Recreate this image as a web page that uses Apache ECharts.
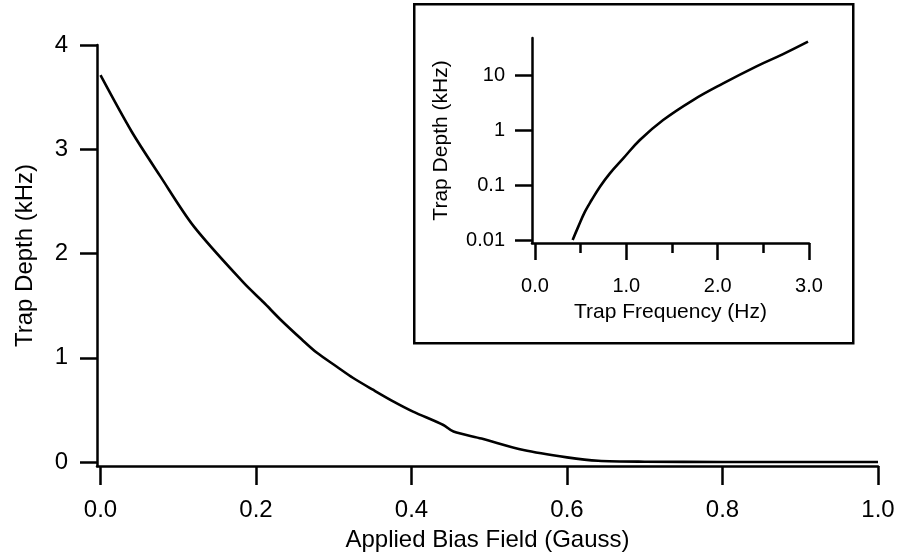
<!DOCTYPE html>
<html>
<head>
<meta charset="utf-8">
<script src="https://cdn.jsdelivr.net/npm/echarts@6/dist/echarts.min.js"></script>
<style>
html,body{margin:0;padding:0;background:#fff;}
#chart{width:899px;height:559px;}
</style>
</head>
<body>
<div id="chart"></div>
<script>
// Main chart: trap depth vs applied bias field
const mainX = [0, 0.04, 0.077, 0.12, 0.184, 0.21, 0.231, 0.259, 0.278, 0.304, 0.325, 0.351, 0.377, 0.402, 0.441, 0.454, 0.49, 0.544, 0.6, 0.64, 0.7, 0.8, 0.9, 1.0];
const mainY = [3.71, 3.17, 2.74, 2.26, 1.72, 1.53, 1.37, 1.175, 1.05, 0.914, 0.806, 0.691, 0.58, 0.484, 0.355, 0.292, 0.225, 0.115, 0.045, 0.012, 0.003, 0.001, 0.001, 0];
const mainXTicks = [0, 0.2, 0.4, 0.6, 0.8, 1.0];
const mainYTicks = [0, 1, 2, 3, 4];

// Inset: trap depth (log) vs trap frequency
const insetX = [0.412, 0.474, 0.547, 0.62, 0.711, 0.82, 0.966, 1.148, 1.403, 1.731, 2.06, 2.425, 2.716, 2.989];
const insetY = [0.01, 0.0175, 0.0327, 0.0533, 0.0931, 0.163, 0.305, 0.658, 1.52, 3.51, 7.05, 14.4, 24.0, 40.4];
const insetXTicks = [0, 1, 2, 3];
const insetXMinorTicks = [0.5, 1.5, 2.5];
const insetYTicks = [0.01, 0.1, 1, 10];

const FONT = '"Liberation Sans", Arial, Helvetica, sans-serif';
const chart = echarts.init(document.getElementById('chart'), null, {renderer: 'canvas'});

const axisLineStyle = {color: '#000', width: 2.5};

chart.setOption({
  animation: false,
  backgroundColor: '#fff',
  textStyle: {fontFamily: FONT, color: '#000'},
  grid: [
    {left: 97, right: 21, top: 45, bottom: 93, containLabel: false},
    {left: 532, right: 90, top: 38, bottom: 316, containLabel: false}
  ],
  graphic: [{
    type: 'rect',
    left: 413, top: 3,
    shape: {width: 439, height: 339},
    style: {fill: 'transparent', stroke: '#000', lineWidth: 2.5},
    z: 10
  }],
  xAxis: [
    {
      type: 'value', gridIndex: 0, min: -0.0045, max: 1.0,
      name: 'Applied Bias Field (Gauss)', nameLocation: 'middle', nameGap: 62,
      nameTextStyle: {fontSize: 24, color: '#000', fontFamily: FONT},
      axisLine: {show: true, onZero: false, lineStyle: axisLineStyle},
      axisTick: {show: true, inside: false, length: 19, customValues: mainXTicks, lineStyle: axisLineStyle},
      axisLabel: {show: true, margin: 32, fontSize: 24, color: '#000', fontFamily: FONT,
        customValues: mainXTicks, formatter: v => Number(v).toFixed(1)},
      splitLine: {show: false}
    },
    {
      type: 'value', gridIndex: 1, min: -0.033, max: 3.0,
      name: 'Trap Frequency (Hz)', nameLocation: 'middle', nameGap: 59,
      nameTextStyle: {fontSize: 21, color: '#000', fontFamily: FONT},
      axisLine: {show: true, onZero: false, lineStyle: axisLineStyle},
      axisTick: {show: true, length: 17, customValues: insetXTicks, lineStyle: axisLineStyle},
      axisLabel: {show: true, margin: 33, fontSize: 20, color: '#000', fontFamily: FONT,
        customValues: insetXTicks, formatter: v => Number(v).toFixed(1)},
      splitLine: {show: false}
    },
    {
      type: 'value', gridIndex: 1, min: -0.033, max: 3.0, position: 'bottom',
      axisLine: {show: false, onZero: false},
      axisTick: {show: true, length: 10, customValues: insetXMinorTicks, lineStyle: axisLineStyle},
      axisLabel: {show: false},
      splitLine: {show: false}
    }
  ],
  yAxis: [
    {
      type: 'value', gridIndex: 0, min: -0.038, max: 4,
      name: 'Trap Depth (kHz)', nameLocation: 'middle', nameGap: 60, nameRotate: 90,
      nameTextStyle: {fontSize: 24, color: '#000', fontFamily: FONT},
      axisLine: {show: true, onZero: false, lineStyle: axisLineStyle},
      axisTick: {show: true, length: 17, customValues: mainYTicks, lineStyle: axisLineStyle},
      axisLabel: {show: true, margin: 29, fontSize: 24, color: '#000', fontFamily: FONT,
        customValues: mainYTicks, formatter: v => String(v)},
      splitLine: {show: false}
    },
    {
      type: 'log', gridIndex: 1, min: 0.00882, max: 47.1, logBase: 10,
      name: 'Trap Depth (kHz)', nameLocation: 'middle', nameGap: 80, nameRotate: 90,
      nameTextStyle: {fontSize: 21, color: '#000', fontFamily: FONT},
      axisLine: {show: true, onZero: false, lineStyle: axisLineStyle},
      axisTick: {show: true, length: 17, customValues: insetYTicks, lineStyle: axisLineStyle},
      axisLabel: {show: true, margin: 27, fontSize: 20, color: '#000', fontFamily: FONT,
        customValues: insetYTicks, formatter: v => String(Number(Number(v).toPrecision(3)))},
      splitLine: {show: false}
    }
  ],
  series: [
    {
      type: 'line', xAxisIndex: 0, yAxisIndex: 0,
      data: mainX.map((x, i) => [x, mainY[i]]),
      showSymbol: false, smooth: 0.3,
      lineStyle: {color: '#000', width: 2.6}
    },
    {
      type: 'line', xAxisIndex: 1, yAxisIndex: 1,
      data: insetX.map((x, i) => [x, insetY[i]]),
      showSymbol: false, smooth: 0.4,
      lineStyle: {color: '#000', width: 2.6}
    }
  ]
});
</script>
</body>
</html>
